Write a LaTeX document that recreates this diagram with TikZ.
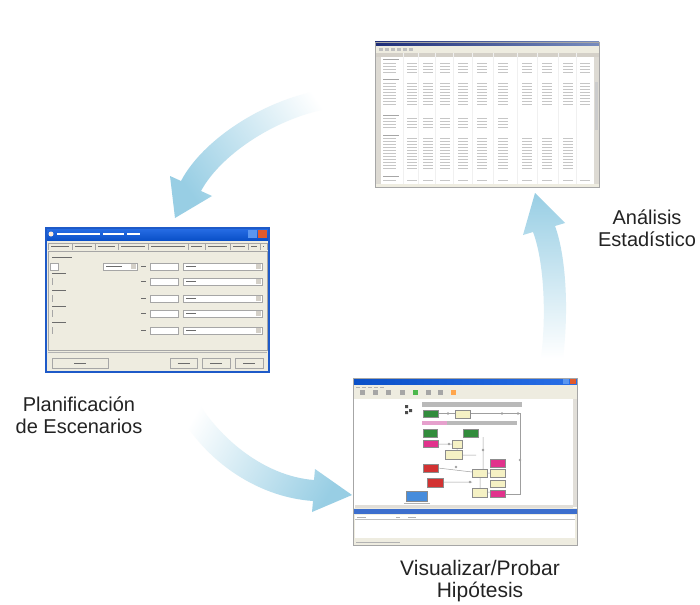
\documentclass[tikz,border=0pt]{standalone}
\usepackage{fontspec}
\setmainfont{Liberation Sans}
\definecolor{ablue}{RGB}{152,206,228}
\definecolor{txtgray}{RGB}{35,35,35}
\definecolor{xpbeige}{RGB}{238,236,224}
\definecolor{xpgray}{RGB}{212,208,200}
\definecolor{navyA}{RGB}{30,45,120}
\definecolor{navyB}{RGB}{120,140,190}
\definecolor{xpA}{RGB}{40,110,230}
\definecolor{xpB}{RGB}{10,80,200}
\definecolor{xpborder}{RGB}{30,90,200}
\definecolor{xpclose}{RGB}{225,90,45}
\definecolor{xpmin}{RGB}{90,150,240}
\definecolor{fgreen}{RGB}{50,140,60}
\definecolor{fpink}{RGB}{225,50,140}
\definecolor{flpink}{RGB}{230,160,205}
\definecolor{fred}{RGB}{210,50,50}
\definecolor{fyel}{RGB}{245,241,196}
\definecolor{fblue}{RGB}{70,140,220}
\definecolor{pblue}{RGB}{60,110,205}
\begin{document}
\begin{tikzpicture}[x=1pt,y=-1pt,
  lbl/.style={font=\fontsize{20}{22}\selectfont, text=txtgray, align=center, inner sep=0pt},
  mk/.style={line width=0.9pt, draw=gray!60},
  sk/.style={line width=0.7pt, draw=gray!45},
  dk/.style={line width=0.9pt, draw=gray!85!black},
  fld/.style={fill=white, draw=gray!70, line width=0.4pt},
  btn/.style={fill=xpbeige, draw=gray!70, line width=0.5pt},
  fb/.style={draw=black!45, line width=0.4pt},
  fl/.style={draw=gray!75, line width=0.5pt},
  arrowshape/.style={top color=ablue, bottom color=white}
]
\useasboundingbox (0,0) rectangle (700,604);
\fill[white] (0,0) rectangle (700,604);

% ================= arrows =================
\shade[arrowshape, shading angle=125]
 (345,88) .. controls (280,89) and (205,135) .. (181,181)
 -- (170,176) -- (175,218) -- (212,196) -- (201,191)
 .. controls (222,152) and (285,111) .. (347,106) -- cycle;
\shade[arrowshape, shading angle=-120]
 (192,392) .. controls (215,435) and (262,476) .. (314,480)
 -- (315,469) -- (352,495) -- (312,512) -- (313,501)
 .. controls (255,497) and (200,458) .. (174,404) -- cycle;
\shade[arrowshape]
 (541,358) .. controls (547,310) and (543,258) .. (533,232)
 -- (523,235) -- (535,193) -- (565,223) -- (555,226)
 .. controls (566,256) and (569,310) .. (563,358) -- cycle;

% ================= spreadsheet window =================
\fill[white] (375,42) rectangle (599,187);
\shade[left color=navyA, right color=navyB] (375,42) rectangle (599,46);
\fill[xpbeige] (375,46) rectangle (599,53);
\foreach \x in {379,385,391,397,403,409} \fill[gray!50] (\x,48.5) rectangle +(4,3);
\fill[xpgray] (375,53) rectangle (599,57);
\foreach \x in {403,418,435,453,472,493,517,537,558,576} \draw[gray!12, line width=0.4pt] (\x,53) -- (\x,184);
\fill[xpgray!80] (375,57) rectangle (381,184);
\fill[xpgray!80] (594,57) rectangle (599,184);
\fill[gray!40] (595,82) rectangle (598,130);
\fill[xpbeige] (375,184) rectangle (599,187);
\foreach \y in {59,79,115,135,176} \draw[sk, draw=gray!70, line width=0.9pt] (383,\y) -- (399,\y);
\foreach \y in {63,66,69,72,83,86,89,92,95,98,101,104,180} {
  \draw[sk] (383,\y) -- (396,\y);
  \foreach \x in {407,423,440,458,477,498,522,542,563,580} \draw[sk] (\x,\y) -- ++(10,0);
}
\foreach \y in {118,121,124,127} {
  \draw[sk] (383,\y) -- (396,\y);
  \foreach \x in {407,423,440,458,477,498} \draw[sk] (\x,\y) -- ++(10,0);
}
\foreach \y in {138,141,144,147,150,153,156,159,162,165,168} {
  \draw[sk] (383,\y) -- (396,\y);
  \foreach \x in {407,423,440,458,477,498,522,542,563} \draw[sk] (\x,\y) -- ++(10,0);
}
\draw[gray!70, line width=0.6pt] (375,42) rectangle (599,187);

% ================= dialog window =================
\fill[xpbeige] (46,228) rectangle (269,372);
\shade[top color=xpA, bottom color=xpB] (46,228) rectangle (269,240);
\fill[white!85!orange] (51,234) circle (2.5);
\draw[white, line width=1.3pt] (57,234) -- (100,234) (103,234) -- (124,234) (127,234) -- (140,234);
\fill[xpmin] (248,230) rectangle (257,238);
\fill[xpclose] (258,230) rectangle (267,238);
\draw[xpborder, line width=1.5pt] (46,228) rectangle (269,372);
% tabs
\foreach \a/\b in {48/72,72/95,95/118,118/148,148/188,188/205,205/230,230/248,248/260,260/267} {
  \draw[gray!70, line width=0.4pt] (\a,250) -- (\a,243) -- (\b,243) -- (\b,250);
  \draw[dk] (\a+3,246.5) -- (\b-3,246.5);
}
\draw[gray!70, line width=0.5pt] (48,251) rectangle (267,350);
% fields row 1
\draw[dk] (52,257) -- (72,257);
\draw[fld] (50,263) rectangle (58,270);
\draw[fld] (103,263) rectangle (137,270);
\fill[xpgray] (131,264) rectangle (136,269);
\draw[dk] (106,266.5) -- (122,266.5);
% rows (=, field, dropdown)
\foreach \ya/\yb in {263/270, 278/285, 295/302, 310/317, 327/334} {
  \draw[dk] (141,\ya+3.5) -- (146,\ya+3.5);
  \draw[fld] (150,\ya) rectangle (178,\yb);
  \draw[fld] (183,\ya) rectangle (262,\yb);
  \fill[xpgray] (256,\ya+1) rectangle (261,\yb-1);
  \draw[dk] (186,\ya+3.5) -- (196,\ya+3.5);
}
\foreach \yl/\yf in {273/278, 290/295, 306/310, 322/327} {
  \draw[dk] (52,\yl) -- (66,\yl);
  \draw[gray!70, line width=0.4pt] (52,\yf) -- (52,\yf+7);
}
\draw[gray!60, line width=0.5pt] (48,352) -- (267,352);
\foreach \a/\b in {52/108,170/197,202/230,235/263} {
  \draw[btn] (\a,358) rectangle (\b,368);
  \draw[dk] ({(\a+\b)/2-6},363) -- ({(\a+\b)/2+6},363);
}

% ================= flow window =================
\fill[white] (353,378) rectangle (577,545);
\shade[left color=xpB, right color=xpA] (353,378) rectangle (577,385);
\fill[xpclose] (570,379) rectangle (576,384);
\fill[xpmin] (563,379) rectangle (569,384);
\fill[xpbeige] (353,385) rectangle (577,399);
\foreach \x in {356,362,368,374,380} \draw[mk] (\x,387) -- ++(4,0);
\foreach \x/\c in {362/gray,375/gray,388/gray,402/gray,415/green!60!black,428/gray,440/gray,453/orange} \fill[\c!70] (\x-2.5,390) rectangle (\x+2.5,395);
\fill[white] (355,399) rectangle (573,507);
\fill[xpgray!70] (573,399) rectangle (577,507);
\fill[xpgray!70] (355,505) rectangle (573,508);
% canvas content
\fill[gray!55] (422,402) rectangle (522,407);
\fill[black!70] (405,405) rectangle (408,408) (409,409) rectangle (412,412) (405,411) rectangle (408,414);
\draw[fl] (438,413.5) -- (455,413.5) (470,413.5) -- (520,413.5) -- (520,494) -- (505,494);
\fill[gray!75] (448,413.5) circle (1.3) (502,413.5) circle (1.3) (518,413.5) circle (1.3) (520,460) circle (1.3);
\draw[fb, fill=fgreen] (423,410) rectangle (438,417);
\draw[fb, fill=fyel] (455,410) rectangle (470,418);
\fill[flpink] (422,421) rectangle (447,425);
\fill[gray!55] (447,421) rectangle (517,425);
\draw[fl] (438,444) -- (452,444) (457,448) -- (457,450) (462,455) -- (476,455) (483,437) -- (483,469)
  (438,468) -- (472,472) (443,482) -- (472,482) (487,473) -- (490,473) (487,492) -- (490,492) (480,477) -- (480,488);
\fill[gray!75] (449,444) circle (1.3) (456,467) circle (1.3) (470,482) circle (1.3) (483,450) circle (1.3);
\draw[fb, fill=fgreen] (423,429) rectangle (437,437);
\draw[fb, fill=fgreen] (463,429) rectangle (478,437);
\draw[fb, fill=fpink] (423,440) rectangle (438,447);
\draw[fb, fill=fyel] (452,440) rectangle (462,448);
\draw[fb, fill=fyel] (445,450) rectangle (462,459);
\draw[fb, fill=fred] (423,464) rectangle (438,472);
\draw[fb, fill=fred] (427,478) rectangle (443,487);
\draw[fb, fill=fpink] (490,459) rectangle (505,467);
\draw[fb, fill=fyel] (472,469) rectangle (487,477);
\draw[fb, fill=fyel] (490,469) rectangle (505,477);
\draw[fb, fill=fyel] (490,480) rectangle (505,487);
\draw[fb, fill=fyel] (472,488) rectangle (487,497);
\draw[fb, fill=fpink] (490,490) rectangle (505,497);
\draw[fb, fill=fblue] (406,491) rectangle (427,501);
\draw[mk, line width=0.6pt] (404,503) -- (430,503);
% bottom panel
\fill[xpbeige] (353,508) rectangle (577,545);
\fill[pblue] (353,509) rectangle (577,514);
\fill[white] (355,515) rectangle (575,538);
\draw[gray!50, line width=0.4pt] (355,519.5) -- (575,519.5);
\foreach \a/\b in {357/366,396/400,408/416} \draw[mk, line width=0.6pt] (\a,517) -- (\b,517);
\draw[mk, line width=0.6pt] (356,542.5) -- (400,542.5);
\draw[gray!70, line width=0.6pt] (353,378) rectangle (577,545);

% ================= labels =================
\node[lbl] (plan) at (79,415.5) {Planificación\\de Escenarios};
\node[lbl] (anal) at (647,228) {Análisis\\Estadístico};
\node[lbl, font=\fontsize{21}{22}\selectfont] (visu) at (480,581) {Visualizar/Probar\\Hipótesis};
\end{tikzpicture}
\end{document}
